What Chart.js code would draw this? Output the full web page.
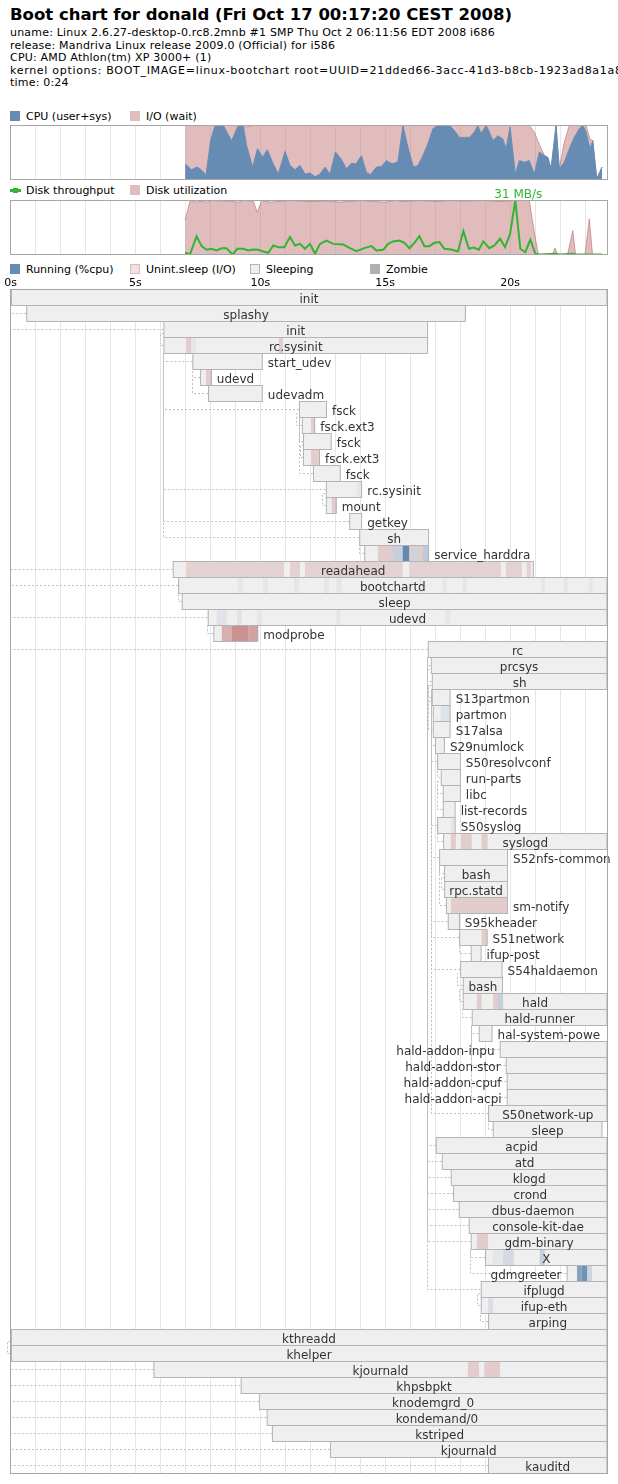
<!DOCTYPE html>
<html>
<head>
<meta charset="utf-8">
<script src="https://cdn.jsdelivr.net/npm/chart.js@4.4.1/dist/chart.umd.min.js"></script>
<style>
body { margin: 0; width: 618px; height: 1484px; background: #fff; position: relative; overflow: hidden; font-family: "DejaVu Sans", sans-serif; color: #000; }
#title { position: absolute; left: 10px; top: 5px; font-size: 16.5px; font-weight: bold; line-height: 20px; white-space: nowrap; }
#info { position: absolute; left: 10px; top: 27px; font-size: 11px; line-height: 12.5px; white-space: nowrap; letter-spacing: 0.2px; }
#info .wide { letter-spacing: 0.7px; }
.lg { position: absolute; font-size: 11px; line-height: 13px; white-space: nowrap; }
.sq { position: absolute; width: 10px; height: 10px; box-sizing: border-box; }
canvas { position: absolute; left: 0; }
</style>
</head>
<body>
<div id="title">Boot chart for donald (Fri Oct 17 00:17:20 CEST 2008)</div>
<div id="info">uname: Linux 2.6.27-desktop-0.rc8.2mnb #1 SMP Thu Oct 2 06:11:56 EDT 2008 i686<br>release: Mandriva Linux release 2009.0 (Official) for i586<br>CPU: AMD Athlon(tm) XP 3000+ (1)<br><span class="wide">kernel options: BOOT_IMAGE=linux-bootchart root=UUID=21dded66-3acc-41d3-b8cb-1923ad8a1a83</span><br>time: 0:24</div>

<!-- legends -->
<div class="sq" style="left:10px;top:111px;background:#668cb3"></div>
<div class="lg" style="left:26px;top:109.7px">CPU (user+sys)</div>
<div class="sq" style="left:130px;top:111px;background:#e0bcbc"></div>
<div class="lg" style="left:146px;top:109.7px">I/O (wait)</div>

<div class="sq" style="left:10px;top:189px;width:11px;height:3px;background:#33b533"></div>
<div class="sq" style="left:13px;top:188px;width:5px;height:5px;background:#33b533"></div>
<div class="lg" style="left:26px;top:183.7px">Disk throughput</div>
<div class="sq" style="left:130px;top:185px;background:#e0bcbc"></div>
<div class="lg" style="left:146px;top:183.7px">Disk utilization</div>

<div class="sq" style="left:10px;top:264px;background:#668cb3"></div>
<div class="lg" style="left:26px;top:262.7px">Running (%cpu)</div>
<div class="sq" style="left:130px;top:264px;background:#f2dfdf;border:1px solid #d9bcbc"></div>
<div class="lg" style="left:146px;top:262.7px">Unint.sleep (I/O)</div>
<div class="sq" style="left:250px;top:264px;background:#f0f0f0;border:1px solid #b4b4b4"></div>
<div class="lg" style="left:266px;top:262.7px">Sleeping</div>
<div class="sq" style="left:370px;top:264px;background:#b0b0b0"></div>
<div class="lg" style="left:386px;top:262.7px">Zombie</div>

<canvas id="cpu" width="618" height="65" style="top:120px"></canvas>
<canvas id="disk" width="618" height="77" style="top:183px"></canvas>
<canvas id="procs" width="618" height="1214" style="top:270px"></canvas>

<script>
const timeMax = 23.9;

// CPU samples: time (s), busy %, iowait %
const cpuTime = [6.99, 7.25, 7.45, 7.59, 7.83, 8.01, 8.19, 8.52, 8.85, 9.12, 9.32, 9.45, 9.69, 9.89, 10.09, 10.28, 10.52, 10.72, 10.99, 11.19,
  11.39, 11.59, 11.79, 11.99, 12.19, 12.39, 12.59, 12.79, 13.01, 13.25, 13.45, 13.65, 13.83, 14.05, 14.25, 14.41, 14.65, 14.85, 15.05, 15.19,
  15.31, 15.51, 15.71, 15.91, 16.13, 16.31, 16.51, 16.71, 16.91, 17.11, 17.57, 17.77, 17.97, 18.17, 18.37, 18.57, 18.71, 18.84, 19.04, 19.17,
  19.31, 19.51, 19.71, 19.84, 20.00, 20.21, 20.37, 20.57, 20.77, 20.97, 21.17, 21.37, 21.51, 21.64, 21.84, 21.97, 22.17, 22.37, 22.57, 22.77,
  22.91, 23.04, 23.20, 23.31, 23.47, 23.68];
const cpuBusy = [29, 18, 23, 20, 9, 72, 100, 100, 72, 100, 100, 63, 23, 57, 41, 55, 29, 10, 52, 26,
  18, 26, 10, 12, 5, 10, 23, 10, 51, 37, 20, 30, 29, 44, 13, 9, 23, 24, 35, 31,
  29, 33, 100, 60, 23, 26, 44, 66, 94, 100, 100, 91, 78, 78, 78, 88, 100, 85, 100, 88,
  72, 81, 75, 57, 97, 10, 35, 32, 35, 10, 51, 44, 41, 20, 100, 20, 32, 57, 78, 94,
  100, 88, 57, 72, 1, 23];
const cpuIoWait = [71, 82, 77, 80, 91, 28, 0, 0, 28, 0, 0, 34, 77, 43, 59, 45, 71, 90, 48, 74,
  82, 74, 90, 88, 95, 90, 77, 90, 49, 63, 80, 70, 71, 56, 87, 91, 77, 76, 65, 69,
  71, 67, 0, 40, 77, 74, 56, 34, 6, 0, 0, 9, 22, 22, 22, 12, 0, 15, 0, 12,
  28, 19, 25, 43, 3, 90, 65, 68, 65, 78, 14, 1, 0, 0, 0, 0, 37, 43, 22, 6,
  0, 12, 18, 0, 0, 0];

// disk utilization (%)
const utilTime = [6.99, 7.19, 7.45, 7.65, 7.85, 8.05, 8.65, 9.12, 9.32, 9.72, 9.88, 10.05, 10.4, 11.2, 11.99, 12.79, 13.2, 14.0, 14.99, 15.4,
  15.8, 16.4, 17.0, 17.6, 18.2, 19.0, 19.6, 20.2, 20.77, 20.97, 21.13, 21.7, 21.8, 21.9, 22.3, 22.51, 22.62, 23.0, 23.17, 23.3, 23.68];
const utilPct = [63, 100, 97, 99, 97, 100, 99, 97, 100, 99, 78, 100, 97, 100, 98, 99, 97, 100, 97, 100,
  98, 100, 98, 100, 99, 100, 98, 100, 100, 41, 0, 0, 12, 0, 0, 44, 0, 0, 66, 0, 0];

// disk throughput (MB/s)
const tputTime = [6.99, 7.19, 7.45, 7.65, 7.85, 8.05, 8.25, 8.45, 8.65, 8.89, 9.08, 9.32, 9.52, 9.72, 9.92, 10.12, 10.32, 10.52, 10.72, 10.96,
  11.19, 11.39, 11.59, 11.79, 11.99, 12.19, 12.39, 12.65, 12.92, 13.32, 13.59, 13.85, 14.19, 14.45, 14.65, 14.92, 15.12, 15.31, 15.57, 15.77,
  15.97, 16.17, 16.37, 16.57, 16.77, 16.97, 17.17, 17.37, 17.64, 17.91, 18.13, 18.35, 18.55, 18.75, 18.93, 19.17, 19.37, 19.60, 19.80, 20.00,
  20.21, 20.41, 20.61, 20.81, 21.01, 21.21, 21.8, 22.0, 22.5, 22.7, 23.68];
const tputMBs = [1.0, 0.2, 10.5, 4.8, 2.7, 3.3, 2.3, 3.6, 3.6, 0, 3.3, 3.3, 2.3, 2.9, 2.7, 1.7, 1.0, 5.2, 4.2, 4.2,
  10.0, 5.2, 6.1, 3.3, 6.1, 0.4, 6.1, 8.0, 6.1, 5.7, 3.6, 1.9, 3.8, 4.8, 2.3, 2.7, 6.1, 7.5, 8.0, 6.7,
  3.6, 6.7, 10.5, 4.8, 4.8, 6.7, 7.1, 3.3, 2.9, 1.7, 13.4, 3.3, 4.0, 2.7, 7.5, 3.6, 5.2, 9.0, 4.2, 11.9,
  31, 3.3, 1.3, 8.6, 0.4, 0, 0.4, 0, 0.4, 0, 0];

// processes
const procNames = ['init', 'splashy', 'init', 'rc.sysinit', 'start_udev', 'udevd', 'udevadm', 'fsck', 'fsck.ext3', 'fsck',
  'fsck.ext3', 'fsck', 'rc.sysinit', 'mount', 'getkey', 'sh', 'service_harddra', 'readahead', 'bootchartd', 'sleep',
  'udevd', 'modprobe', 'rc', 'prcsys', 'sh', 'S13partmon', 'partmon', 'S17alsa', 'S29numlock', 'S50resolvconf',
  'run-parts', 'libc', 'list-records', 'S50syslog', 'syslogd', 'S52nfs-common', 'bash', 'rpc.statd', 'sm-notify', 'S95kheader',
  'S51network', 'ifup-post', 'S54haldaemon', 'bash', 'hald', 'hald-runner', 'hal-system-powe', 'hald-addon-inpu', 'hald-addon-stor', 'hald-addon-cpuf',
  'hald-addon-acpi', 'S50network-up', 'sleep', 'acpid', 'atd', 'klogd', 'crond', 'dbus-daemon', 'console-kit-dae', 'gdm-binary',
  'X', 'gdmgreeter', 'ifplugd', 'ifup-eth', 'arping', 'kthreadd', 'khelper', 'kjournald', 'khpsbpkt', 'knodemgrd_0',
  'kondemand/0', 'kstriped', 'kjournald', 'kauditd'];
const procStart = [0, 0.63, 6.12, 6.12, 7.28, 7.59, 7.91, 11.55, 11.66, 11.71,
  11.71, 12.11, 12.62, 12.62, 13.56, 13.96, 14.16, 6.49, 6.71, 6.85,
  7.89, 8.12, 16.70, 16.82, 16.86, 16.86, 16.90, 16.90, 16.99, 17.08,
  17.22, 17.30, 17.30, 17.08, 17.32, 17.16, 17.36, 17.36, 17.43, 17.50,
  17.96, 18.42, 18.00, 18.10, 18.10, 18.46, 18.74, 19.58, 19.82, 19.86,
  19.86, 19.12, 19.30, 17.02, 17.26, 17.62, 17.72, 17.94, 18.34, 18.42,
  19.00, 22.26, 18.82, 18.82, 19.12, 0, 0, 5.72, 9.21, 9.94,
  10.25, 10.46, 12.79, 19.11];
const procEnd = [23.9, 18.23, 16.72, 16.72, 10.10, 8.06, 10.10, 12.67, 12.20, 12.86,
  12.39, 13.22, 14.08, 13.06, 14.08, 16.76, 16.76, 20.95, 23.9, 23.9,
  23.9, 9.92, 23.9, 23.9, 23.9, 17.62, 17.62, 17.62, 17.39, 18.03,
  18.03, 18.03, 17.82, 17.82, 23.9, 19.92, 19.92, 19.92, 19.92, 17.99,
  19.10, 18.86, 19.70, 19.72, 23.9, 23.9, 19.30, 23.9, 23.9, 23.9,
  23.9, 23.9, 23.70, 23.9, 23.9, 23.9, 23.9, 23.9, 23.9, 23.9,
  23.9, 23.9, 23.9, 23.9, 23.9, 23.9, 23.9, 23.9, 23.9, 23.9,
  23.9, 23.9, 23.9, 23.9];
const procParent = [-1, 0, 0, 2, 3, 4, 4, 3, 7, 7,
  9, 7, 3, 12, 3, 3, 15, 0, 0, 18,
  0, 20, 0, 22, 23, 24, 25, 24, 24, 24,
  29, 30, 30, 24, 33, 24, 35, 36, 35, 24,
  24, 40, 24, 42, 43, 44, 45, 45, 45, 45,
  45, 24, 51, 22, 22, 22, 22, 22, 22, 22,
  59, 59, 22, 62, 63, -1, 65, 65, 65, 65,
  65, 65, 65, 65];

// uninterruptible sleep (I/O) stretches: row, start, end, intensity
const ioRow = [3, 3, 5, 8, 10, 13, 16, 16, 16, 17, 17, 17, 17, 17, 17, 21, 21, 21, 34, 34, 34, 38, 40, 44, 44, 59, 67, 67];
const ioStart = [7.03, 10.75, 7.83, 12.03, 12.03, 12.86, 14.71, 15.96, 16.31, 7.03, 11.19, 11.79, 15.96, 19.83, 20.67, 8.46, 8.86, 9.52,
  17.63, 18.03, 18.86, 17.63, 18.86, 18.67, 19.32, 18.67, 18.31, 18.97];
const ioEnd = [7.23, 10.91, 8.06, 12.20, 12.39, 13.06, 15.31, 16.11, 16.51, 10.95, 11.59, 15.70, 19.63, 20.47, 20.83, 8.86, 9.52, 9.92,
  17.83, 18.46, 19.10, 19.92, 19.10, 18.86, 19.52, 19.12, 18.76, 19.60];
const ioLevel = [0.3, 0.3, 0.3, 0.3, 0.3, 0.3, 0.3, 0.3, 0.3, 0.25, 0.25, 0.25, 0.25, 0.25, 0.25, 0.55, 0.8, 0.65,
  0.3, 0.3, 0.3, 0.3, 0.3, 0.3, 0.3, 0.3, 0.3, 0.3];

// running stretches: row, start, end, cpu share
const runRow = [3, 12, 16, 16, 16, 16, 18, 18, 18, 18, 18, 18, 18, 18, 18, 18, 18, 20, 20, 20, 20, 20, 26, 33, 44, 60, 60, 60, 61, 61, 61, 63];
const runStart = [7.23, 13.86, 15.31, 15.70, 16.11, 16.51, 9.1, 10.1, 11.35, 12.55, 13.05, 16.35, 17.3, 18.1, 21.25, 22.15, 23.15,
  8.26, 9.07, 9.87, 13.05, 17.4, 17.22, 17.63, 19.52, 19.30, 19.72, 21.19, 22.68, 22.86, 23.08, 19.12];
const runEnd = [7.43, 14.08, 15.70, 15.96, 16.31, 16.76, 9.3, 10.3, 11.55, 12.75, 13.25, 16.5, 17.45, 18.25, 21.4, 22.3, 23.3,
  8.66, 9.26, 10.07, 13.2, 17.6, 17.62, 17.82, 19.72, 19.72, 20.15, 21.39, 22.86, 23.08, 23.28, 19.32];
const runLevel = [0.08, 0.08, 0.3, 1.0, 0.25, 0.35, 0.08, 0.08, 0.08, 0.08, 0.08, 0.08, 0.08, 0.08, 0.08, 0.08, 0.08,
  0.1, 0.12, 0.08, 0.08, 0.08, 0.12, 0.08, 0.3, 0.08, 0.2, 0.3, 0.75, 0.9, 0.25, 0.15];

const FONT = '"DejaVu Sans", sans-serif';
Chart.defaults.font.family = FONT;
Chart.defaults.animation = false;
Chart.defaults.responsive = false;
Chart.defaults.plugins.legend.display = false;
Chart.defaults.plugins.tooltip.enabled = false;

const boxBorder = {
    id: 'boxBorder',
    afterDraw(chart) {
        const { ctx, chartArea: a } = chart;
        ctx.save();
        ctx.strokeStyle = '#a6a6a6';
        ctx.lineWidth = 1;
        ctx.strokeRect(a.left, a.top, a.right - a.left, a.bottom - a.top);
        ctx.restore();
    }
};

function stripTimeAxis() {
    return {
        type: 'linear', min: 0, max: timeMax,
        afterFit: s => { s.height = 0; },
        ticks: { display: false, stepSize: 1, autoSkip: false, includeBounds: false },
        grid: { color: '#e6e6e6', drawTicks: false },
        border: { display: false }
    };
}

// CPU load
new Chart(document.getElementById('cpu'), {
    type: 'line',
    data: {
        datasets: [
            {
                label: 'CPU (user+sys)',
                data: cpuTime.map((t, i) => ({ x: t, y: cpuBusy[i] })),
                fill: 'origin',
                backgroundColor: '#668cb3',
                borderColor: '#668cb3',
                borderWidth: 1,
                pointRadius: 0,
                tension: 0
            },
            {
                label: 'I/O (wait)',
                data: cpuTime.map((t, i) => ({ x: t, y: cpuIoWait[i] })),
                fill: '-1',
                backgroundColor: 'rgba(194,122,122,0.5)',
                borderColor: 'rgba(194,122,122,0.7)',
                borderWidth: 1,
                pointRadius: 0,
                tension: 0
            }
        ]
    },
    options: {
        layout: { padding: { left: 10.5, right: 10.5, top: 5.5, bottom: 5.5 } },
        scales: {
            x: stripTimeAxis(),
            y: { display: false, stacked: true, min: 0, max: 100 }
        }
    },
    plugins: [boxBorder]
});

// disk
const peakLabel = {
    id: 'peakLabel',
    afterDatasetsDraw(chart) {
        const { ctx, scales } = chart;
        let k = 0;
        tputMBs.forEach((v, i) => { if (v > tputMBs[k]) k = i; });
        const px = scales.x.getPixelForValue(tputTime[k]);
        const py = scales.yT.getPixelForValue(tputMBs[k]);
        ctx.save();
        ctx.font = '12px ' + FONT;
        ctx.fillStyle = '#33b533';
        ctx.textAlign = 'center';
        ctx.textBaseline = 'alphabetic';
        ctx.fillText(Math.round(tputMBs[k]) + ' MB/s', px + 3, py - 3);
        ctx.restore();
    }
};

new Chart(document.getElementById('disk'), {
    type: 'line',
    data: {
        datasets: [
            {
                label: 'Disk throughput',
                data: tputTime.map((t, i) => ({ x: t, y: tputMBs[i] })),
                yAxisID: 'yT',
                fill: false,
                borderColor: '#33b533',
                borderWidth: 2,
                pointRadius: 0,
                tension: 0
            },
            {
                label: 'Disk utilization',
                data: utilTime.map((t, i) => ({ x: t, y: utilPct[i] })),
                yAxisID: 'y',
                fill: 'origin',
                backgroundColor: 'rgba(194,122,122,0.5)',
                borderColor: 'rgba(194,122,122,0.7)',
                borderWidth: 1,
                pointRadius: 0,
                tension: 0
            }
        ]
    },
    options: {
        layout: { padding: { left: 10.5, right: 10.5, top: 17.5, bottom: 5.5 } },
        scales: {
            x: stripTimeAxis(),
            y: { display: false, min: 0, max: 100 },
            yT: { display: false, min: 0, max: 31 }
        }
    },
    plugins: [boxBorder, peakLabel]
});

// process tree
const rowIds = procNames.map((_, i) => String(i));
const boxData = procStart.map((s, i) => ({ y: rowIds[i], x: [s, procEnd[i]] }));

const connectors = {
    id: 'connectors',
    beforeDatasetsDraw(chart) {
        const { ctx, scales: { x, y } } = chart;
        ctx.save();
        ctx.strokeStyle = '#bfbfbf';
        ctx.lineWidth = 1;
        ctx.setLineDash([2, 2]);
        procParent.forEach((p, i) => {
            if (p < 0) return;
            const px = Math.floor(x.getPixelForValue(procStart[p])) + 0.5;
            const cx = x.getPixelForValue(procStart[i]);
            const cy = y.getPixelForValue(i);
            const py = y.getPixelForValue(p) + 8;
            ctx.beginPath();
            if (Math.abs(px - cx) < 3) {
                ctx.moveTo(cx, cy);
                ctx.lineTo(px - 3, cy);
                ctx.lineTo(px - 3, py - 4);
                ctx.lineTo(px, py - 4);
            } else {
                ctx.moveTo(cx, cy);
                ctx.lineTo(px, cy);
                ctx.lineTo(px, py);
            }
            ctx.stroke();
        });
        ctx.restore();
    }
};

const procLabels = {
    id: 'procLabels',
    afterDatasetsDraw(chart) {
        const { ctx, chartArea, scales: { x, y } } = chart;
        ctx.save();
        ctx.font = '12px ' + FONT;
        ctx.fillStyle = '#333';
        ctx.textBaseline = 'alphabetic';
        procNames.forEach((name, i) => {
            const x0 = x.getPixelForValue(procStart[i]);
            const x1 = x.getPixelForValue(procEnd[i]);
            const w = ctx.measureText(name).width;
            let tx = (x0 + x1) / 2 - w / 2;
            if (w + 10 > x1 - x0) tx = x1 + 5;
            if (tx + w > chartArea.right + 4) tx = x0 - w - 5;
            ctx.fillText(name, tx, y.getPixelForValue(i) + 5);
        });
        ctx.restore();
    }
};

new Chart(document.getElementById('procs'), {
    type: 'bar',
    data: {
        labels: rowIds,
        datasets: [
            {
                label: 'Sleeping',
                data: boxData,
                backgroundColor: '#efefef',
                borderColor: '#b4b4b4',
                borderWidth: 1,
                barPercentage: 17 / 16,
                order: 4
            },
            {
                label: 'Unint.sleep (I/O)',
                data: ioRow.map((r, i) => ({ y: rowIds[r], x: [ioStart[i], ioEnd[i]] })),
                backgroundColor: ioLevel.map(l => `rgba(194,122,122,${l})`),
                borderWidth: 0,
                barPercentage: 15 / 16,
                order: 3
            },
            {
                label: 'Running (%cpu)',
                data: runRow.map((r, i) => ({ y: rowIds[r], x: [runStart[i], runEnd[i]] })),
                backgroundColor: runLevel.map(l => `rgba(100,136,176,${l})`),
                borderWidth: 0,
                barPercentage: 15 / 16,
                order: 2
            },
            {
                label: 'outline',
                data: boxData,
                backgroundColor: 'rgba(0,0,0,0)',
                borderColor: '#b4b4b4',
                borderWidth: 1,
                barPercentage: 17 / 16,
                order: 1
            }
        ]
    },
    options: {
        indexAxis: 'y',
        layout: { padding: { left: 10.5, right: 10.5, top: 0, bottom: 10.5 } },
        datasets: { bar: { grouped: false, categoryPercentage: 1, borderSkipped: false } },
        scales: {
            x: {
                type: 'linear', position: 'top', min: 0, max: timeMax,
                afterFit: s => { s.height = 19.5; },
                ticks: {
                    stepSize: 1, autoSkip: false, includeBounds: false, maxRotation: 0, padding: 0,
                    color: '#000', font: { size: 11 },
                    callback: v => (v % 5 === 0 ? v + 's' : '')
                },
                grid: { color: '#e6e6e6', drawTicks: false },
                border: { display: false }
            },
            y: { type: 'category', display: false, offset: true }
        }
    },
    plugins: [connectors, procLabels, boxBorder]
});
</script>
</body>
</html>
